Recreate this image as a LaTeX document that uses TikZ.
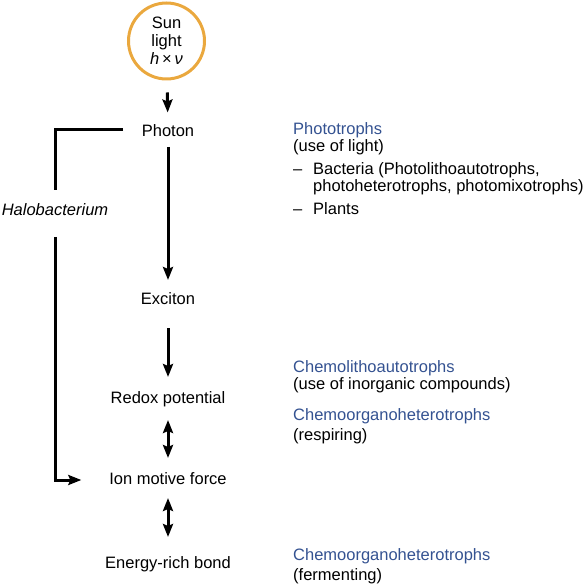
\documentclass[tikz,border=0pt]{standalone}
\usepackage{fontspec}
\setmainfont{Liberation Sans}
\usetikzlibrary{
  arrows.meta % For arrow tips
}
\definecolor{sunorange}{RGB}{234,168,62}
\definecolor{trophblue}{RGB}{52,82,145}
\newcommand{\labelsize}{\fontsize{16.5}{18}\selectfont}

\begin{document}
\begin{tikzpicture}[
      x=1pt, y=-1pt, % Pixel-like coordinates, y downwards
      >={Stealth[length=13pt, width=10pt, inset=2pt]}, % Default arrow tip
      stage/.style={font=\labelsize, anchor=base, inner sep=0pt, outer sep=0pt,
        text height=12pt, text depth=4pt}, % Style for the energy stages
      note/.style={font=\labelsize, anchor=base west, inner sep=0pt}, % Style for side notes
      head/.style={note, text=trophblue}, % Style for organism groups
      flow/.style={->, line width=3pt, shorten <=12pt, shorten >=12pt}, % Style for arrows
      both/.style={flow, <->}, % Style for double arrows
    ]
    \useasboundingbox (0,0) rectangle (586,585);

    % Sonne
    \node[circle, draw=sunorange, line width=3pt, minimum size=76pt, inner sep=0pt,
      align=center, font=\labelsize] (sun) at (166.5,41)
      {Sun\\light\\\textit{h}\,×\,\textit{ν}};

    % Stufen
    \node[stage] (photon)  at (168,136.5) {Photon};
    \node[stage] (exciton) at (168,305)   {Exciton};
    \node[stage] (redox)   at (168,403)   {Redox potential};
    \node[stage] (ion)     at (168,484)   {Ion motive force};
    \node[stage] (bond)    at (168,568)   {Energy-rich bond};
    \node[stage, font=\labelsize\itshape] (halo) at (55,216) {Halobacterium};
    \coordinate (halotop) at (123,130);

    % Pfeile
    \draw[flow] (sun) -- (photon);
    \draw[flow, shorten <=6.5pt, shorten >=13pt] (photon) -- (exciton);
    \draw[flow, shorten <=19pt, shorten >=14pt] (exciton) -- (redox);
    \draw[both, shorten <=13pt, shorten >=14pt] (redox) -- (ion);
    \draw[both, shorten <=10pt, shorten >=19pt] (ion) -- (bond);
    \draw[line width=3pt, shorten >=14pt] (halotop) -| (halo.north);
    \draw[flow, shorten <=17pt, shorten >=28pt] (halo.south) |- (ion.west);

    % Phototrophe
    \node[head] (phot)     at (293,135) {Phototrophs};
    \node[note] (photuse)  at (293,152) {(use of light)};
    \node[note] (bact)     at (293,175) {\makebox[20pt][l]{–}Bacteria (Photolithoautotrophs,};
    \node[note] (bactmore) at (313,192) {photoheterotrophs, photomixotrophs)};
    \node[note] (plants)   at (293,215) {\makebox[20pt][l]{–}Plants};

    % Chemotrophe
    \node[head] (chemlith)    at (293,372) {Chemolithoautotrophs};
    \node[note] (chemlithuse) at (293,389) {(use of inorganic compounds)};
    \node[head] (chemorg)     at (293,420) {Chemoorganoheterotrophs};
    \node[note] (chemorguse)  at (293,440) {(respiring)};
    \node[head] (chemferm)    at (293,560) {Chemoorganoheterotrophs};
    \node[note] (chemfermuse) at (293,580) {(fermenting)};

  \end{tikzpicture}
\end{document}
